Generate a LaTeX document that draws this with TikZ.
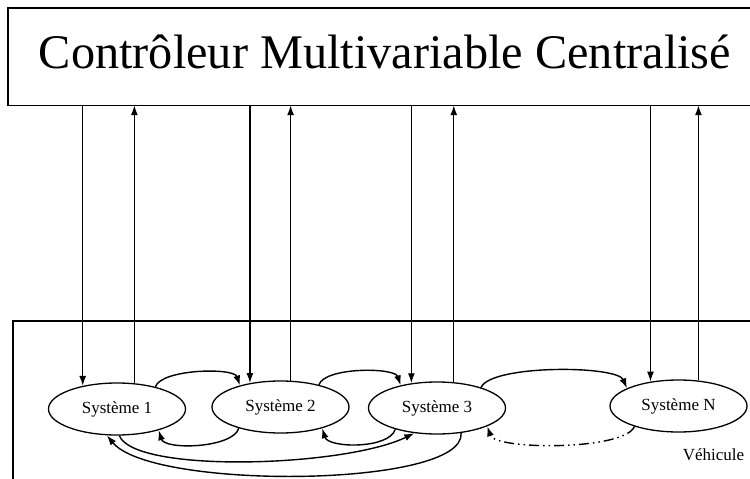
\documentclass[tikz,border=0pt]{standalone}
\usepackage{fontspec}
\setmainfont{Liberation Serif}
\usetikzlibrary{shapes.geometric,arrows.meta}
\begin{document}
\begin{tikzpicture}[x=1pt,y=-1pt,
  sys/.style={ellipse,draw,line width=1.3pt,minimum width=137pt,minimum height=52pt,inner sep=0pt,font=\fontsize{17}{20}\selectfont},
  ln/.style={line width=1.4pt},
  arr/.style={ln,-{Latex[length=10pt,width=7pt]}},
  dd/.style={arr,dash pattern=on 10pt off 4pt on 1.5pt off 4pt on 1.5pt off 4pt}
]
\useasboundingbox (0,0) rectangle (750,479);
% controller box (open on the right)
\node[minimum width=742pt,minimum height=97pt,inner sep=0pt] (ctrl) at (379,56.5) {};
\draw[ln] (ctrl.north east) -- (ctrl.north west) -- (ctrl.south west) -- (ctrl.south east);
\node[anchor=base,font=\fontsize{48.3}{58}\selectfont,inner sep=0pt] (title) at (385,68) {Contrôleur Multivariable Centralisé};
% vehicle box (open on the right and bottom)
\node[minimum width=737pt,minimum height=158pt,inner sep=0pt] (veh) at (381.5,400) {};
\draw[ln] (veh.north east) -- (veh.north west) -- (veh.south west);
\node[anchor=base,font=\fontsize{17}{20}\selectfont,inner sep=0pt] (vlab) at (713.5,460) {Véhicule};
% systems
\node[sys] (s1) at (117,409) {Système 1};
\node[sys] (s2) at (280.5,407) {Système 2};
\node[sys] (s3) at (437,408) {Système 3};
\node[sys] (sn) at (678.5,406) {Système N};
% vertical links
\draw[arr] (s1.146.4 |- ctrl.south) -- (s1.146.4);
\draw[arr] (s1.56) -- (s1.56 |- ctrl.south);
\draw[arr] (s2.142.6 |- ctrl.south) -- (s2.142.6);
\draw[arr] (s2.69.7) -- (s2.69.7 |- ctrl.south);
\draw[arr] (s3.136.4 |- ctrl.south) -- (s3.136.4);
\draw[arr] (s3.57.2) -- (s3.57.2 |- ctrl.south);
\draw[arr] (sn.139.7 |- ctrl.south) -- (sn.139.7);
\draw[arr] (sn.52.5) -- (sn.52.5 |- ctrl.south);
% top arcs
\draw[arr] (s1.30) .. controls +(6,-18) and +(-6,-18) .. (s2.152);
\draw[arr] (s2.30) .. controls +(6,-18) and +(-6,-18) .. (s3.148);
\draw[arr] (s3.25) .. controls +(10,-23) and +(-10,-23) .. (sn.161);
% bottom short arcs
\draw[arr] (s2.207) .. controls +(-6,20) and +(6,20) .. (s1.333);
\draw[arr] (s3.207) .. controls +(-6,20) and +(6,20) .. (s2.333);
\draw[dd] (sn.205) .. controls +(-10,24) and +(8,24) .. (s3.340);
% long arcs
\draw[arr] (s1.275) .. controls +(15,38) and +(-70,34) .. (s3.228);
\draw[arr] (s3.314) .. controls +(5,55) and +(45,55) .. (s1.249);
\end{tikzpicture}
\end{document}
